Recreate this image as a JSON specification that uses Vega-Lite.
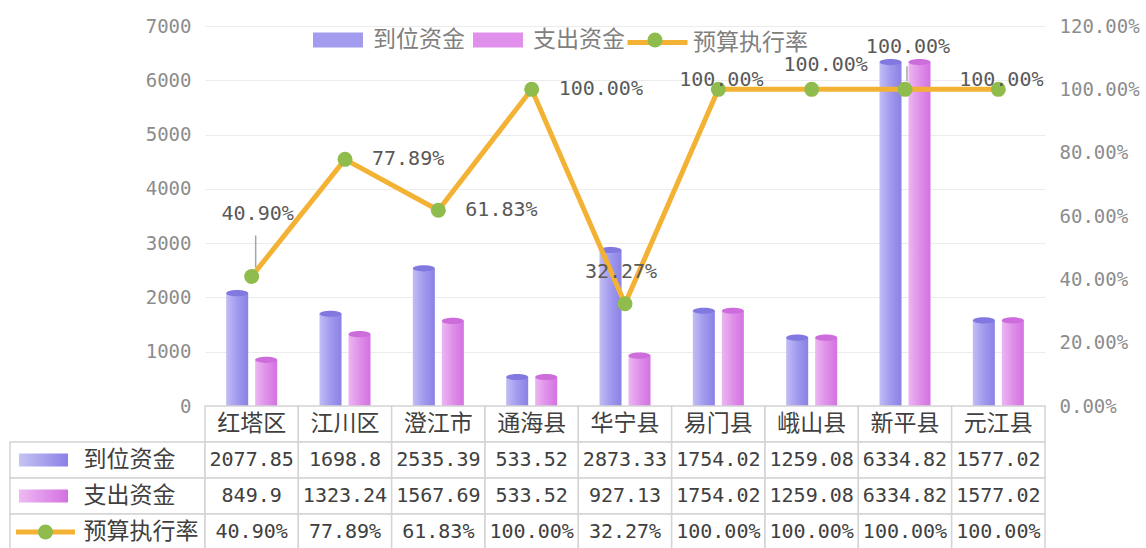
{
  "$schema": "https://vega.github.io/schema/vega-lite/v6.json",
  "padding": {"left": 6, "top": 15, "right": 0, "bottom": 0},
  "columns": 2,
  "spacing": 0,
  "bounds": "flush",
  "align": "each",
  "datasets": {
    "main": [
      {"地区": "红塔区", "到位资金": 2077.85, "支出资金": 849.9, "预算执行率": 0.409},
      {"地区": "江川区", "到位资金": 1698.8, "支出资金": 1323.24, "预算执行率": 0.7789},
      {"地区": "澄江市", "到位资金": 2535.39, "支出资金": 1567.69, "预算执行率": 0.6183},
      {"地区": "通海县", "到位资金": 533.52, "支出资金": 533.52, "预算执行率": 1.0},
      {"地区": "华宁县", "到位资金": 2873.33, "支出资金": 927.13, "预算执行率": 0.3227},
      {"地区": "易门县", "到位资金": 1754.02, "支出资金": 1754.02, "预算执行率": 1.0},
      {"地区": "峨山县", "到位资金": 1259.08, "支出资金": 1259.08, "预算执行率": 1.0},
      {"地区": "新平县", "到位资金": 6334.82, "支出资金": 6334.82, "预算执行率": 1.0},
      {"地区": "元江县", "到位资金": 1577.02, "支出资金": 1577.02, "预算执行率": 1.0}
    ],
    "legend": [
      {"系列": "到位资金"},
      {"系列": "支出资金"},
      {"系列": "预算执行率"}
    ]
  },
  "resolve": {
    "scale": {"color": "independent", "fill": "independent", "stroke": "independent", "shape": "independent"},
    "legend": {"color": "independent", "fill": "independent", "stroke": "independent", "shape": "independent"}
  },
  "concat": [
    {
      "width": 195,
      "height": 380,
      "data": {"name": "legend"},
      "transform": [{"filter": "false"}],
      "mark": "point"
    },
    {
      "width": 840,
      "height": 380,
      "data": {"name": "main"},
      "layer": [
        {
          "transform": [{"fold": ["到位资金", "支出资金"], "as": ["系列", "金额"]}],
          "encoding": {
            "x": {"field": "地区", "type": "nominal", "scale": {"domain": ["红塔区","江川区","澄江市","通海县","华宁县","易门县","峨山县","新平县","元江县"], "paddingInner": 0, "paddingOuter": 0}, "axis": null},
            "xOffset": {"field": "系列", "type": "nominal", "scale": {"domain": ["到位资金", "支出资金"], "paddingInner": 0.24, "paddingOuter": 0.73}},
            "y": {
              "field": "金额", "type": "quantitative",
              "scale": {"domain": [0, 7000], "nice": false},
              "axis": {"orient": "left", "values": [0,1000,2000,3000,4000,5000,6000,7000], "format": "d", "grid": true, "gridColor": "#ececec", "gridWidth": 1, "domain": false, "ticks": false, "labelFont": "DejaVu Sans Mono", "labelFontSize": 19, "labelColor": "#8c8c8c", "labelPadding": 14, "title": null}
            }
          },
          "layer": [
            {
              "transform": [{"filter": "datum['系列'] === '到位资金'"}],
              "mark": {"type": "bar", "color": {"gradient": "linear", "stops": [{"offset": 0, "color": "#c2bdf5"}, {"offset": 0.5, "color": "#a19aee"}, {"offset": 1, "color": "#8a81e5"}]}}
            },
            {
              "transform": [{"filter": "datum['系列'] === '支出资金'"}],
              "mark": {"type": "bar", "color": {"gradient": "linear", "stops": [{"offset": 0, "color": "#ecb6f2"}, {"offset": 0.5, "color": "#df90e9"}, {"offset": 1, "color": "#d372e2"}]}}
            },
            {
              "transform": [{"filter": "datum['系列'] === '到位资金'"}],
              "mark": {"type": "point", "shape": "M-1,0A1,0.28,0,1,1,1,0A1,0.28,0,1,1,-1,0Z", "size": 484, "filled": true, "opacity": 1, "color": "#8179df"}
            },
            {
              "transform": [{"filter": "datum['系列'] === '支出资金'"}],
              "mark": {"type": "point", "shape": "M-1,0A1,0.28,0,1,1,1,0A1,0.28,0,1,1,-1,0Z", "size": 484, "filled": true, "opacity": 1, "color": "#cc6ddb"}
            }
          ]
        },
        {
          "encoding": {
            "x": {"field": "地区", "type": "nominal", "scale": {"domain": ["红塔区","江川区","澄江市","通海县","华宁县","易门县","峨山县","新平县","元江县"], "paddingInner": 0, "paddingOuter": 0}, "axis": null},
            "y": {
              "field": "预算执行率", "type": "quantitative",
              "scale": {"domain": [0, 1.2], "nice": false},
              "axis": {"orient": "right", "values": [0, 0.2, 0.4, 0.6, 0.8, 1.0, 1.2], "format": ".2%", "grid": false, "domain": false, "ticks": false, "labelFont": "DejaVu Sans Mono", "labelFontSize": 19, "labelColor": "#8c8c8c", "labelPadding": 14, "title": null}
            }
          },
          "layer": [
            {"mark": {"type": "line", "color": "#f3b234", "strokeWidth": 5}},
            {"mark": {"type": "point", "filled": true, "color": "#8fbc4c", "size": 225, "opacity": 1}},
            {
              "transform": [{"filter": {"field": "地区", "equal": "红塔区"}}],
              "mark": {"type": "rule", "color": "#a6a6a6", "strokeWidth": 1.5, "yOffset": -41, "y2Offset": -9, "xOffset": 4},
              "encoding": {"y2": {"field": "预算执行率"}}
            },
            {
              "transform": [{"filter": {"field": "地区", "equal": "新平县"}}],
              "mark": {"type": "rule", "color": "#a6a6a6", "strokeWidth": 1.5, "yOffset": -23, "y2Offset": -8, "xOffset": 2},
              "encoding": {"y2": {"field": "预算执行率"}}
            },
            {
              "transform": [{"filter": {"field": "地区", "oneOf": ["江川区", "澄江市", "通海县"]}}],
              "mark": {"type": "text", "align": "left", "dx": 27, "font": "DejaVu Sans Mono", "fontSize": 20, "color": "#595959"},
              "encoding": {"text": {"field": "预算执行率", "type": "quantitative", "format": ".2%"}}
            },
            {
              "transform": [{"filter": {"field": "地区", "equal": "红塔区"}}],
              "mark": {"type": "text", "dx": 6, "dy": -62, "font": "DejaVu Sans Mono", "fontSize": 20, "color": "#595959"},
              "encoding": {"text": {"field": "预算执行率", "type": "quantitative", "format": ".2%"}}
            },
            {
              "transform": [{"filter": {"field": "地区", "equal": "华宁县"}}],
              "mark": {"type": "text", "dx": -4, "dy": -32, "font": "DejaVu Sans Mono", "fontSize": 20, "color": "#595959"},
              "encoding": {"text": {"field": "预算执行率", "type": "quantitative", "format": ".2%"}}
            },
            {
              "transform": [{"filter": {"field": "地区", "equal": "峨山县"}}],
              "mark": {"type": "text", "dx": 14, "dy": -24, "font": "DejaVu Sans Mono", "fontSize": 20, "color": "#595959"},
              "encoding": {"text": {"field": "预算执行率", "type": "quantitative", "format": ".2%"}}
            },
            {
              "transform": [{"filter": {"field": "地区", "equal": "新平县"}}],
              "mark": {"type": "text", "dx": 3, "dy": -42, "font": "DejaVu Sans Mono", "fontSize": 20, "color": "#595959"},
              "encoding": {"text": {"field": "预算执行率", "type": "quantitative", "format": ".2%"}}
            },
            {
              "transform": [{"filter": {"field": "地区", "oneOf": ["易门县", "元江县"]}}],
              "mark": {"type": "text", "dx": 3, "dy": -9, "font": "DejaVu Sans Mono", "fontSize": 20, "color": "#595959"},
              "encoding": {"text": {"field": "预算执行率", "type": "quantitative", "format": ".2%"}}
            }
          ]
        },
        {
          "data": {"name": "legend"},
          "transform": [{"filter": "false"}],
          "mark": {"type": "square", "filled": true},
          "encoding": {
            "fill": {
              "field": "系列", "type": "nominal",
              "scale": {"domain": ["到位资金", "支出资金"], "range": ["#a29bee", "#e08fea"]},
              "legend": {
                "orient": "none", "legendX": 108, "legendY": -11, "direction": "horizontal", "title": null, "padding": 0,
                "symbolType": "M-1,-0.3H1V0.3H-1Z", "symbolSize": 2500, "symbolStrokeWidth": 0, "symbolOpacity": 1,
                "labelOffset": 10, "columnPadding": 8,
                "labelFont": "Noto Sans CJK SC", "labelFontSize": 23, "labelColor": "#808080"
              }
            }
          }
        },
        {
          "data": {"name": "legend"},
          "transform": [{"filter": "false"}],
          "mark": {"type": "line"},
          "encoding": {
            "stroke": {
              "field": "系列", "type": "nominal",
              "scale": {"domain": ["预算执行率"], "range": ["#f3b234"]},
              "legend": {
                "orient": "none", "legendX": 425, "legendY": -11, "direction": "horizontal", "title": null, "padding": 0,
                "symbolType": "M-1.2,0H1.2", "symbolSize": 2500, "symbolStrokeWidth": 5, "symbolOpacity": 1,
                "labelOffset": 8,
                "labelFont": "Noto Sans CJK SC", "labelFontSize": 23, "labelColor": "#808080"
              }
            }
          }
        },
        {
          "data": {"name": "legend"},
          "transform": [{"filter": "false"}, {"calculate": "'圆点'", "as": "标记"}],
          "mark": {"type": "point", "filled": true, "color": "#8fbc4c", "opacity": 1},
          "encoding": {
            "shape": {
              "field": "标记", "type": "nominal",
              "scale": {"domain": ["圆点"], "range": ["circle"]},
              "legend": {
                "orient": "none", "legendX": 442.5, "legendY": 6.5, "direction": "horizontal", "title": null, "padding": 0,
                "symbolSize": 225, "symbolFillColor": "#8fbc4c", "symbolStrokeWidth": 0, "symbolOpacity": 1,
                "labelOffset": 0, "labelFontSize": 1, "labelExpr": "''"
              }
            }
          }
        }
      ],
      "resolve": {"scale": {"y": "independent"}}
    },
    {
      "width": 195,
      "height": 144,
      "data": {"name": "legend"},
      "encoding": {
        "y": {"field": "系列", "type": "nominal", "scale": {"domain": ["表头", "到位资金", "支出资金", "预算执行率"], "paddingInner": 0, "paddingOuter": 0}, "axis": null}
      },
      "layer": [
        {"mark": {"type": "rect", "fill": "white", "stroke": "#d4d4d4", "strokeWidth": 1.5}},
        {
          "mark": {"type": "text", "align": "left", "dx": -24, "font": "Noto Sans CJK SC", "fontSize": 23, "color": "#404040"},
          "encoding": {"text": {"field": "系列"}}
        },
        {
          "transform": [{"filter": "datum['系列'] === '到位资金'"}],
          "mark": {"type": "point", "shape": "M-1,-0.27H1V0.27H-1Z", "size": 2401, "filled": true, "opacity": 1, "xOffset": -64, "color": {"gradient": "linear", "stops": [{"offset": 0, "color": "#c6c3f3"}, {"offset": 1, "color": "#8a80e6"}]}}
        },
        {
          "transform": [{"filter": "datum['系列'] === '支出资金'"}],
          "mark": {"type": "point", "shape": "M-1,-0.27H1V0.27H-1Z", "size": 2401, "filled": true, "opacity": 1, "xOffset": -64, "color": {"gradient": "linear", "stops": [{"offset": 0, "color": "#eebaf3"}, {"offset": 1, "color": "#d46fe2"}]}}
        },
        {
          "transform": [{"filter": "datum['系列'] === '预算执行率'"}],
          "mark": {"type": "point", "shape": "M-1,0H1", "size": 3481, "filled": false, "opacity": 1, "xOffset": -62, "color": "#f3b234", "strokeWidth": 5}
        },
        {
          "transform": [{"filter": "datum['系列'] === '预算执行率'"}],
          "mark": {"type": "point", "size": 225, "filled": true, "opacity": 1, "xOffset": -62, "color": "#8fbc4c"}
        }
      ]
    },
    {
      "width": 840,
      "height": 144,
      "data": {"name": "main"},
      "transform": [
        {"calculate": "datum['地区']", "as": "表头"},
        {"fold": ["表头", "到位资金", "支出资金", "预算执行率"], "as": ["行", "值"]},
        {"calculate": "datum['行'] === '预算执行率' ? format(datum['值'], '.2%') : '' + datum['值']", "as": "文本"}
      ],
      "encoding": {
        "x": {"field": "地区", "type": "nominal", "scale": {"domain": ["红塔区","江川区","澄江市","通海县","华宁县","易门县","峨山县","新平县","元江县"], "paddingInner": 0, "paddingOuter": 0}, "axis": null},
        "y": {"field": "行", "type": "nominal", "scale": {"domain": ["表头", "到位资金", "支出资金", "预算执行率"], "paddingInner": 0, "paddingOuter": 0}, "axis": null}
      },
      "layer": [
        {"mark": {"type": "rect", "fill": "white", "stroke": "#d4d4d4", "strokeWidth": 1.5}},
        {
          "transform": [{"filter": "datum['行'] === '表头'"}],
          "mark": {"type": "text", "font": "Noto Sans CJK SC", "fontSize": 23, "color": "#404040"},
          "encoding": {"text": {"field": "文本"}}
        },
        {
          "transform": [{"filter": "datum['行'] !== '表头'"}],
          "mark": {"type": "text", "font": "DejaVu Sans Mono", "fontSize": 20, "color": "#404040"},
          "encoding": {"text": {"field": "文本"}}
        }
      ]
    }
  ],
  "config": {"view": {"stroke": null}}
}
